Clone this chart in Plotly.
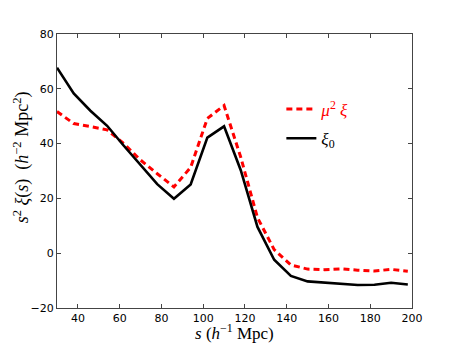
import plotly.graph_objects as go

s = [30, 38, 46, 54, 62, 70, 78, 86, 94, 102, 110, 118, 126, 134, 142, 150, 158, 166, 174, 182, 190, 198]
xi0 = [67.7, 58.3, 52.0, 46.5, 39.2, 32.0, 25.2, 19.9, 25.1, 42.2, 46.3, 30.3, 9.6, -2.4, -8.3, -10.3, -10.7, -11.0, -11.6, -11.5, -10.8, -11.4]
mu2xi = [51.7, 47.3, 46.2, 45.0, 40.0, 34.0, 29.0, 24.2, 31.3, 49.2, 53.9, 35.0, 13.0, 1.3, -4.3, -5.8, -6.0, -5.7, -6.2, -6.5, -5.9, -6.6]

x_ticks = [40, 60, 80, 100, 120, 140, 160, 180, 200]
y_ticks = [-20, 0, 20, 40, 60, 80]

fig = go.Figure()
fig.add_trace(go.Scatter(
    x=s, y=mu2xi, mode="lines", legendgroup="a",
    line=dict(color="red", width=3, dash="6px,4px"),
    name='<span style="color:red"><i>μ</i><sup>2</sup> <i>ξ</i></span>'))
fig.add_trace(go.Scatter(
    x=s, y=xi0, mode="lines", legendgroup="b",
    line=dict(color="black", width=2.6),
    name='<i>ξ</i><sub>0</sub>'))

axis_common = dict(
    showgrid=False, zeroline=False, showline=True, linecolor="#444", linewidth=1.2,
    mirror="ticks", ticks="inside", ticklen=4, tickcolor="#444", automargin=False,
    tickfont=dict(family="DejaVu Sans", size=11, color="black"),
)
fig.update_xaxes(range=[30, 200], tickvals=x_ticks, **axis_common)
fig.update_yaxes(range=[-20, 80], tickvals=y_ticks, **axis_common)

fig.add_annotation(text="<i>s</i> (<i>h</i><sup>−1</sup> Mpc)", xref="paper", yref="paper",
                   x=0.5, y=0, xanchor="center", yanchor="top", yshift=-12, showarrow=False,
                   borderpad=0,
                   font=dict(family="Liberation Serif", size=17, color="black"))
fig.add_annotation(text="<i>s</i><sup>2</sup> <i>ξ</i>(<i>s</i>)  (<i>h</i><sup>−2</sup> Mpc<sup>2</sup>)",
                   xref="paper", yref="paper", textangle=-90,
                   x=0, y=0.55, xanchor="center", yanchor="middle", xshift=-35, showarrow=False,
                   font=dict(family="Liberation Serif", size=18, color="black"))

# page body has an 8px default margin, so the figure is offset by 8px
fig.update_layout(
    width=458, height=343,
    margin=dict(l=49, r=54, t=26, b=43, autoexpand=False),
    paper_bgcolor="white", plot_bgcolor="white",
    showlegend=True,
    legend=dict(x=0.632, y=0.79, xanchor="left", yanchor="top",
                bgcolor="rgba(0,0,0,0)", borderwidth=0, traceorder="grouped",
                font=dict(family="Liberation Serif", size=17, color="black"),
                itemwidth=30, tracegroupgap=4),
)
fig.write_html("out.html")
